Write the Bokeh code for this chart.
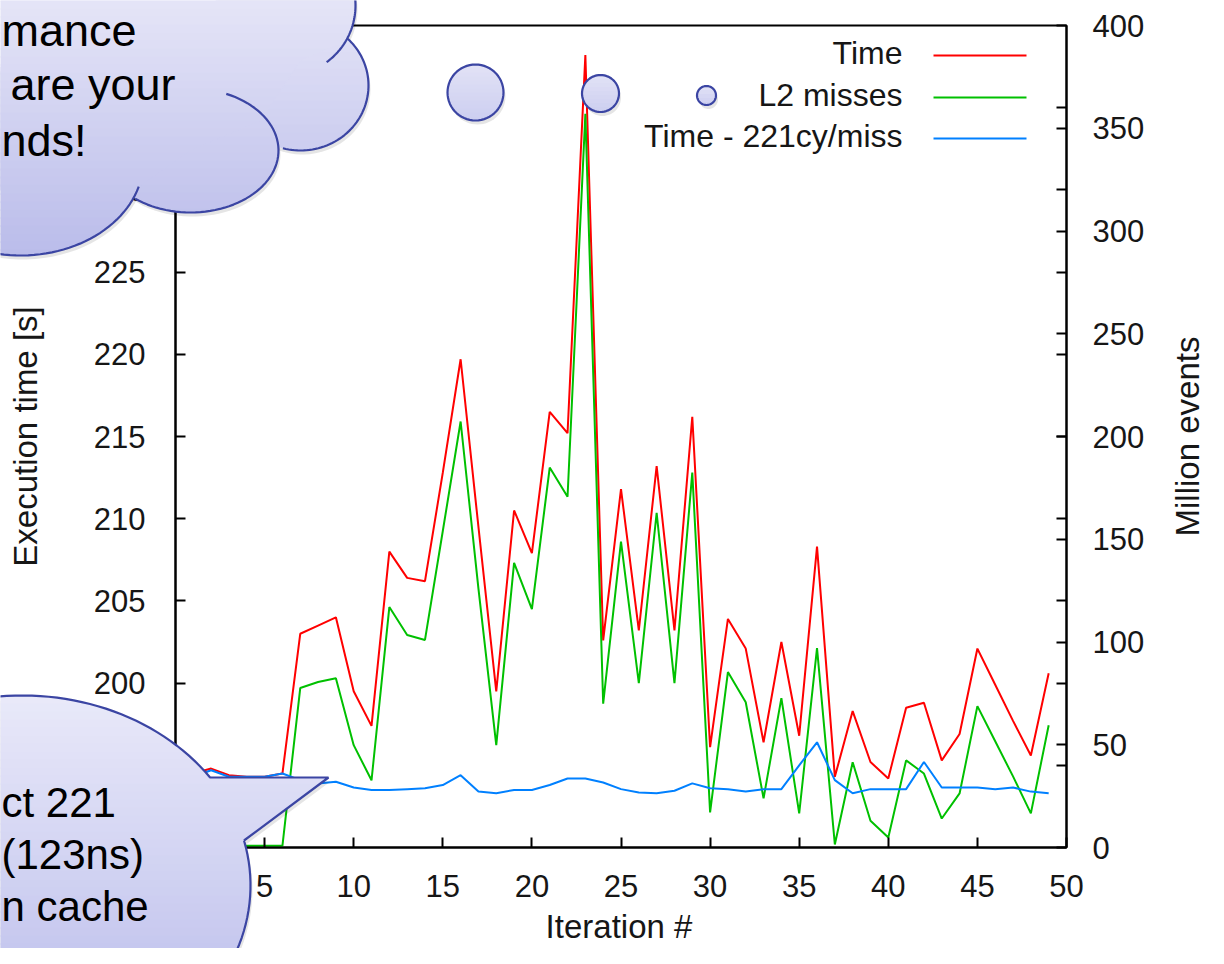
import math
from bokeh.plotting import figure
from bokeh.models import Range1d, LinearAxis, FixedTicker, PolyAnnotation, Label, GridBox
from bokeh.core.properties import value
from bokeh.embed import file_html
from bokeh.resources import INLINE

# ---------------- data ----------------
iterations = list(range(50))

time_s = [194.4, 194.5, 194.8, 194.4, 194.3, 194.3, 194.5, 203.0, 203.5, 204.0,
          199.5, 197.4, 208.0, 206.4, 206.2, 212.8, 219.7, 209.5, 199.5, 210.5,
          207.9, 216.5, 215.2, 238.2, 202.6, 211.8, 203.2, 213.2, 203.2, 216.2,
          196.1, 203.9, 202.1, 196.4, 202.5, 196.8, 208.3, 194.3, 198.3, 195.2,
          194.2, 198.5, 198.8, 195.3, 196.9, 202.1, 199.9, 197.7, 195.6, 200.6]

l2_misses = [0.8, 0.8, 0.8, 0.8, 0.8, 0.8, 0.8, 77.6, 80.5, 82.4,
             49.8, 32.7, 117.0, 103.4, 101.0, 154.0, 207.3, 126.0, 49.8, 138.5,
             116.0, 184.9, 170.7, 357.0, 70.0, 148.8, 80.0, 162.9, 80.0, 182.4,
             17.1, 85.4, 70.7, 23.9, 72.7, 16.6, 97.0, 1.5, 41.5, 13.0,
             4.9, 42.4, 36.0, 14.1, 26.3, 68.8, 51.7, 34.6, 16.6, 59.5]

time_adjusted = [194.4, 194.3, 194.7, 194.3, 194.3, 194.3, 194.5, 194.1, 193.9, 194.0,
                 193.65, 193.5, 193.5, 193.55, 193.6, 193.8, 194.4, 193.4, 193.3, 193.5,
                 193.5, 193.8, 194.2, 194.2, 193.95, 193.55, 193.35, 193.3, 193.45, 193.9,
                 193.6, 193.55, 193.4, 193.55, 193.55, 195.0, 196.4, 194.1, 193.3, 193.55,
                 193.55, 193.55, 195.2, 193.65, 193.65, 193.65, 193.55, 193.65, 193.4, 193.3]

x_ticks = [0, 5, 10, 15, 20, 25, 30, 35, 40, 45, 50]
y_ticks = [190, 195, 200, 205, 210, 215, 220, 225, 230, 235, 240]
y2_ticks = [0, 50, 100, 150, 200, 250, 300, 350, 400]

series_labels = ["Time", "L2 misses", "Time - 221cy/miss"]
series_colors = ["#ff0000", "#00c000", "#0080ff"]

x_title = "Iteration #"
y_title = "Execution time [s]"
y2_title = "Million events"

cloud_lines = ["mance", "are your", "nds!"]
bubble_lines = ["ct 221", "(123ns)", "n cache"]

# ---------------- geometry (canvas pixels) ----------------
W, H = 1208, 948
FL, FR, FT, FB = 175, 1066, 25, 847

x_lo, x_hi = x_ticks[0], x_ticks[-1]
y_lo, y_hi = y_ticks[0], y_ticks[-1]
y2_lo, y2_hi = y2_ticks[0], y2_ticks[-1]


def dx(px):
    return x_lo + (px - FL) * (x_hi - x_lo) / (FR - FL)


def dy(py):
    return y_lo + (FB - py) * (y_hi - y_lo) / (FB - FT)


def base(py, size):
    # anchor that puts the drawn alphabetic baseline at page row py
    return py - 0.37 * size


FONT = "Liberation Sans"
INK = "#161616"

# ================= main chart =================
p = figure(width=W, height=H,
           x_range=Range1d(x_lo, x_hi), y_range=Range1d(y_lo, y_hi),
           min_border_left=FL, min_border_right=W - FR,
           min_border_top=FT, min_border_bottom=H - FB,
           output_backend="svg", toolbar_location=None)
p.extra_y_ranges = {"y2": Range1d(y2_lo, y2_hi)}
p.background_fill_color = "white"
p.border_fill_color = "white"
p.outline_line_color = "black"
p.outline_line_width = 2
p.xgrid.visible = False
p.ygrid.visible = False


def style_axis(ax, standoff):
    ax.axis_line_color = "black"
    ax.axis_line_width = 2
    ax.major_tick_in = 10
    ax.major_tick_out = 0
    ax.major_tick_line_color = "black"
    ax.major_tick_line_width = 2
    ax.minor_tick_in = 10
    ax.minor_tick_out = 0
    ax.minor_tick_line_color = "black"
    ax.minor_tick_line_width = 2
    ax.major_label_text_font = FONT
    ax.major_label_text_font_size = "31px"
    ax.major_label_text_color = INK
    ax.major_label_standoff = standoff


xa = p.xaxis[0]
xa.ticker = FixedTicker(ticks=x_ticks)
style_axis(xa, 27)

ya = p.yaxis[0]
ya.ticker = FixedTicker(ticks=y_ticks)
style_axis(ya, 30)
ya.axis_label = y_title
ya.axis_label_text_font = FONT
ya.axis_label_text_font_size = "33px"
ya.axis_label_text_font_style = "normal"
ya.axis_label_text_color = INK
ya.axis_label_standoff = 47

mirror = [y2_lo + (v - y_lo) * (y2_hi - y2_lo) / (y_hi - y_lo) for v in y_ticks[1:-1]]
y2a = LinearAxis(y_range_name="y2", ticker=FixedTicker(ticks=y2_ticks, minor_ticks=mirror))
style_axis(y2a, 26)
p.add_layout(y2a, "right")

p.line(iterations, time_s, line_color=series_colors[0], line_width=2)
p.line(iterations, l2_misses, line_color=series_colors[1], line_width=2, y_range_name="y2")
p.line(iterations, time_adjusted, line_color=series_colors[2], line_width=2)

# legend, gnuplot style: text then sample line
for lab, col, bl, ly in zip(series_labels, series_colors, [64, 106, 147], [55, 97, 138]):
    p.add_layout(Label(x=dx(902), y=dy(base(bl, 32)), text=lab, text_align="right",
                       text_baseline="alphabetic", text_font=FONT,
                       text_font_size="32px", text_color=INK))
    p.add_layout(PolyAnnotation(xs=[dx(933), dx(1026), dx(933)], ys=[dy(ly)] * 3,
                                fill_alpha=0, line_color=col, line_alpha=1.0,
                                line_width=2))

# ================= overlay (slide call-outs, titles outside the frame) =================
q = figure(width=W, height=H, x_range=Range1d(0, W), y_range=Range1d(H, 0),
           min_border_left=0, min_border_right=0, min_border_top=0, min_border_bottom=0,
           x_axis_location=None, y_axis_location=None,
           output_backend="svg", toolbar_location=None)
q.background_fill_alpha = 0
q.border_fill_alpha = 0
q.outline_line_color = None
q.grid.visible = False

# keep the two stacked plots from having their frames aligned to each other
for fig in (p, q):
    if "frame_align" in type(fig).properties():
        fig.frame_align = False

STROKE = "#3b45a3"


def ell(cx, cy, rx, ry, t0=0.0, t1=360.0, n=90):
    out = []
    for k in range(n + 1):
        t = math.radians(t0 + (t1 - t0) * k / n)
        out.append((cx + rx * math.cos(t), cy + ry * math.sin(t)))
    return out


def clip_y(poly, yv, keep_ge):
    out = []
    n = len(poly)
    for i in range(n):
        cx_, cy_ = poly[i]
        px_, py_ = poly[i - 1]
        cin = (cy_ >= yv) if keep_ge else (cy_ <= yv)
        pin = (py_ >= yv) if keep_ge else (py_ <= yv)
        if cin != pin:
            t = (yv - py_) / (cy_ - py_)
            out.append((px_ + t * (cx_ - px_), yv))
        if cin:
            out.append((cx_, cy_))
    return out


def col_at(y, ytop, ybot, ctop, cbot):
    t = min(1.0, max(0.0, (y - ytop) / (ybot - ytop)))
    return "#%02x%02x%02x" % tuple(int(round(a + (b - a) * t)) for a, b in zip(ctop, cbot))


fill_xs, fill_ys, fill_cols = [], [], []
shadow_xs, shadow_ys = [], []
edge_xs, edge_ys = [], []


def add_gradient(pts, ytop, ybot, ctop, cbot, step=8):
    ys = [b for _, b in pts]
    lo, hi = min(ys), max(ys)
    y = max(lo, -step)
    first = True
    while y < min(hi, H + 2):
        top = lo if first else y
        band = clip_y(clip_y(pts, top, True), y + step + 1, False)
        first = False
        if len(band) >= 3:
            fill_xs.append([a for a, _ in band])
            fill_ys.append([b for _, b in band])
            fill_cols.append(col_at(y + step / 2, ytop, ybot, ctop, cbot))
        y += step


def add_shadow(pts):
    shadow_xs.append([a + 2 for a, _ in pts])
    shadow_ys.append([b + 4 for _, b in pts])


def add_edge(pts, closed=False):
    pts = pts + [pts[0]] if closed else pts
    edge_xs.append([a for a, _ in pts])
    edge_ys.append([b for _, b in pts])


# cloud (top-left)
lobes = [(285, 5, 70, 70), (300, 85, 68, 65), (190, 150, 88, 62), (20, 160, 123, 95)]
arcs = [(-35, 54), (-46, 105), (-66, 129), (16, 185)]
filler = [(-40, -40), (352, -40), (346, 40), (300, 60), (260, 120), (190, 150),
          (133, 190), (-40, 190)]
cloud_top, cloud_bot = (229, 229, 247), (186, 188, 234)
for (cx, cy, rx, ry) in lobes:
    add_shadow(ell(cx, cy, rx, ry))
    add_gradient(ell(cx, cy, rx, ry), 0, 255, cloud_top, cloud_bot)
add_gradient(filler, 0, 255, cloud_top, cloud_bot)
for (cx, cy, rx, ry), (a0, a1) in zip(lobes, arcs):
    add_edge(ell(cx, cy, rx, ry, a0, a1, 60))

# thought circles
for (cx, cy, r) in [(475, 92, 28), (600, 93, 18.5), (706, 95, 9.5)]:
    c = ell(cx, cy, r, r, 0, 360, 60)
    add_shadow(c)
    add_gradient(c, cy - r, cy + r, (226, 226, 246), (204, 206, 240), step=4)
    add_edge(c, closed=True)

# speech bubble (bottom-left)
bcx, bcy, brx, bry = 22, 885, 228, 190
t_start = math.degrees(math.asin((840 - bcy) / bry))
t_end = 360 + math.degrees(math.asin((777 - bcy) / bry))
bubble = ell(bcx, bcy, brx, bry, t_start, t_end, 160) + [(328, 777)]
add_shadow(bubble)
add_gradient(bubble, 696, 964, (233, 233, 249), (196, 198, 238))
add_edge(bubble, closed=True)

q.patches(shadow_xs, shadow_ys, fill_color="black", fill_alpha=0.10, line_color=None)
q.patches(fill_xs, fill_ys, fill_color=fill_cols, fill_alpha=1.0, line_color=None)
q.multi_line(edge_xs, edge_ys, line_color=STROKE, line_width=2.2)

# call-out texts
q.text(x=[1, 10, 1], y=[base(b, 45) for b in (47, 101, 157)], text=cloud_lines,
       text_font=value(FONT), text_font_size=value("45px"), text_color="black",
       text_align="left", text_baseline="alphabetic")
q.text(x=[1, 1, 1], y=[base(b, 42) for b in (818, 870, 922)], text=bubble_lines,
       text_font=value(FONT), text_font_size=value("42px"), text_color="black",
       text_align="left", text_baseline="alphabetic")

# axis titles that sit outside the chart frame
q.text(x=[(FL + FR) / 2 - 2], y=[base(938, 33)], text=[x_title],
       text_font=value(FONT), text_font_size=value("33px"), text_color=INK,
       text_align="center", text_baseline="alphabetic")
q.text(x=[base(1199, 33)], y=[436], text=[y2_title], angle=math.pi / 2,
       text_font=value(FONT), text_font_size=value("33px"), text_color=INK,
       text_align="center", text_baseline="alphabetic")

layout = GridBox(children=[(p, 0, 0), (q, 0, 0)])
open("out.html", "w").write(file_html(layout, INLINE))
